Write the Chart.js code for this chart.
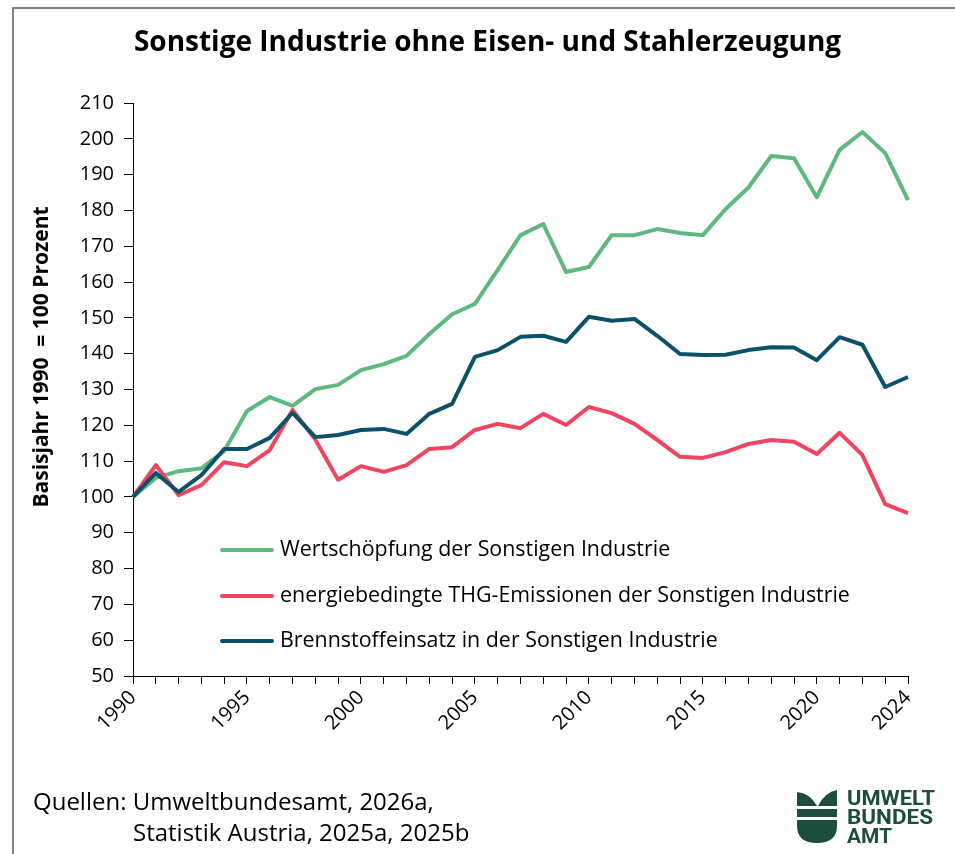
<!DOCTYPE html>
<html>
<head>
<meta charset="utf-8">
<script src="https://cdn.jsdelivr.net/npm/chart.js@4.4.1/dist/chart.umd.min.js"></script>
<style>
html,body{margin:0;padding:0;background:#fff;}
#wrap{position:relative;width:955px;height:854px;overflow:hidden;font-family:"Open Sans",sans-serif;color:#000;}
#frame{position:absolute;left:12px;top:7px;width:1000px;height:1000px;border:2px solid #808080;}
#c{position:absolute;left:0;top:0;}
#title{position:absolute;left:10px;width:955px;top:21px;text-align:center;font-weight:700;font-size:28px;line-height:38px;}
#ytitle{position:absolute;left:-160px;width:400px;top:343px;height:28px;line-height:28px;text-align:center;font-weight:700;font-size:21px;transform:rotate(-90deg);white-space:pre;}
.src{position:absolute;font-size:24px;line-height:32px;white-space:pre;}
#logo{position:absolute;left:0;top:0;}
</style>
</head>
<body>
<div id="wrap">
  <div id="frame"></div>
  <canvas id="c" width="955" height="854"></canvas>
  <div id="title">Sonstige Industrie ohne Eisen- und Stahlerzeugung</div>
  <div id="ytitle">Basisjahr 1990  = 100 Prozent</div>
  <div class="src" style="left:33px;top:785px;">Quellen: Umweltbundesamt, 2026a,</div>
  <div class="src" style="left:133px;top:816px;">Statistik Austria, 2025a, 2025b</div>
  <svg id="logo" width="955" height="854" viewBox="0 0 955 854">
    <g fill="#1d4e3b">
      <path d="M797,792 Q810,793 817,806 L797,806 Z"/>
      <path d="M837,790 L837,806 L818,806 Q825,792 837,790 Z"/>
      <rect x="797" y="809" width="40" height="8"/>
      <path d="M797,820 L837,820 L837,826 Q837,843 817,843 Q797,843 797,826 Z"/>
      <g font-family="Roboto, 'Liberation Sans Narrow', sans-serif" font-weight="700" font-size="20">
        <text x="847" y="805" textLength="88" lengthAdjust="spacingAndGlyphs">UMWELT</text>
        <text x="847" y="824" textLength="86" lengthAdjust="spacingAndGlyphs">BUNDES</text>
        <text x="847" y="843" textLength="45" lengthAdjust="spacingAndGlyphs">AMT</text>
      </g>
    </g>
  </svg>
</div>
<script>
const years = ['1990','1991','1992','1993','1994','1995','1996','1997','1998','1999',
  '2000','2001','2002','2003','2004','2005','2006','2007','2008','2009',
  '2010','2011','2012','2013','2014','2015','2016','2017','2018','2019',
  '2020','2021','2022','2023','2024'];
const labeledYears = ['1990','1995','2000','2005','2010','2015','2020','2024'];

const wertschoepfung = [100,105.3,107.2,108,112.8,124,127.9,125.4,130.1,131.3,
  135.4,137.1,139.4,145.5,151,153.9,163.4,173.1,176.2,162.8,
  164.2,173.1,173.1,174.8,173.7,173.1,180.4,186.4,195.2,194.6,
  183.7,196.9,201.9,196,182.9];
const emissionen = [100,108.9,100.5,103.3,109.7,108.6,113.1,124.3,116,104.8,
  108.6,107,108.9,113.4,113.9,118.7,120.4,119.2,123.2,120.1,
  125.1,123.4,120.4,115.9,111.2,110.9,112.5,114.8,115.9,115.4,
  112,117.9,111.7,98,95.5];
const brennstoff = [100,106.7,101.4,106.1,113.4,113.4,116.5,123.5,116.7,117.3,
  118.7,119,117.6,123.2,126,139.1,141,144.7,145,143.3,
  150.3,149.2,149.7,145,139.9,139.6,139.7,141,141.8,141.7,
  138.2,144.6,142.5,130.7,133.5];

const seriesNames = ['Wertschöpfung der Sonstigen Industrie',
  'energiebedingte THG-Emissionen der Sonstigen Industrie',
  'Brennstoffeinsatz in der Sonstigen Industrie'];
const seriesColors = ['#5fb97e','#ef4560','#0c5069'];

const yMin = 50, yMax = 210, yStep = 10;

const legendPlugin = {
  id: 'insideLegend',
  afterDraw(chart) {
    const ctx = chart.ctx;
    ctx.save();
    ctx.font = '21.4px "Open Sans"';
    ctx.textBaseline = 'middle';
    ctx.textAlign = 'left';
    const rows = [550, 596, 641];
    chart.data.datasets.forEach((ds, i) => {
      const y = rows[i];
      ctx.strokeStyle = ds.borderColor;
      ctx.lineWidth = 4;
      ctx.lineCap = 'round';
      ctx.beginPath();
      ctx.moveTo(222, y);
      ctx.lineTo(272, y);
      ctx.stroke();
      ctx.fillStyle = '#000';
      ctx.fillText(ds.label, 280, y);
    });
    ctx.restore();
  }
};

new Chart(document.getElementById('c'), {
  type: 'line',
  data: {
    labels: years,
    datasets: [
      {label: seriesNames[0], data: wertschoepfung, borderColor: seriesColors[0], order: 3},
      {label: seriesNames[1], data: emissionen, borderColor: seriesColors[1], order: 2},
      {label: seriesNames[2], data: brennstoff, borderColor: seriesColors[2], order: 1}
    ]
  },
  options: {
    responsive: false,
    animation: false,
    events: [],
    layout: {padding: {top: 103, right: 47, left: 0, bottom: 0}},
    elements: {
      line: {borderWidth: 4, tension: 0, borderJoinStyle: 'round', fill: false},
      point: {radius: 0}
    },
    plugins: {legend: {display: false}, title: {display: false}, tooltip: {enabled: false}},
    scales: {
      x: {
        type: 'category',
        offset: false,
        grid: {display: true, drawOnChartArea: false, drawTicks: true, tickLength: 8, color: '#000'},
        border: {display: true, color: '#000', width: 1},
        ticks: {
          autoSkip: false, minRotation: 45, maxRotation: 45, padding: 2,
          color: '#000', font: {family: 'Open Sans', size: 20},
          callback: function(v, i) { return labeledYears.includes(years[i]) ? years[i] : ''; }
        },
        afterFit: s => { s.height = 178; }
      },
      y: {
        min: yMin, max: yMax,
        grid: {display: true, drawOnChartArea: false, drawTicks: true, tickLength: 9, color: '#000'},
        border: {display: true, color: '#000', width: 1},
        ticks: {stepSize: yStep, padding: 10, color: '#000', font: {family: 'Open Sans', size: 20}},
        afterFit: s => { s.width = 133; }
      }
    }
  },
  plugins: [legendPlugin]
});
</script>
</body>
</html>
